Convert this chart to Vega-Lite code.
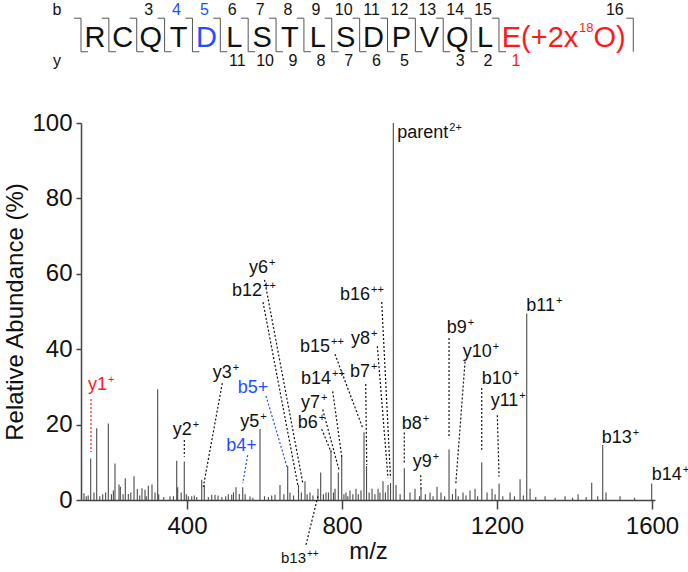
{
  "$schema": "https://vega.github.io/schema/vega-lite/v6.json",
  "width": 574,
  "height": 377,
  "autosize": {"type": "none"},
  "padding": {"left": 81, "top": 123, "right": 33, "bottom": 72},
  "background": "white",
  "config": {"view": {"stroke": null}, "font": "Liberation Sans"},
  "datasets": {
    "peaks": [
      {"mz":134.2,"ab":1.8},{"mz":140,"ab":1},{"mz":145,"ab":1.2},{"mz":151.5,"ab":11},{"mz":160,"ab":2},{"mz":167,"ab":19},{"mz":175,"ab":1},{"mz":182.5,"ab":1.5},{"mz":190,"ab":2},{"mz":197,"ab":20.3},{"mz":205,"ab":1.5},{"mz":210,"ab":2.5},{"mz":214.2,"ab":9.7},{"mz":224.6,"ab":4.1},{"mz":228,"ab":3.5},{"mz":235,"ab":1.5},{"mz":240.8,"ab":5.8},{"mz":248.6,"ab":1.6},{"mz":255,"ab":2},{"mz":263.3,"ab":6.3},{"mz":271.8,"ab":2.9},{"mz":278,"ab":1.2},{"mz":283.9,"ab":3.1},{"mz":291.7,"ab":2.7},{"mz":295,"ab":1},{"mz":300.2,"ab":3.8},{"mz":309.7,"ab":4.1},{"mz":317.5,"ab":2},{"mz":324.4,"ab":29.4},{"mz":327,"ab":1.5},{"mz":340,"ab":0.8},{"mz":356.2,"ab":1},{"mz":365,"ab":1},{"mz":373.5,"ab":10.4},{"mz":376,"ab":3.4},{"mz":385,"ab":2},{"mz":393,"ab":10.2},{"mz":398.2,"ab":1.5},{"mz":403.4,"ab":1},{"mz":412.2,"ab":1},{"mz":418.9,"ab":1.2},{"mz":425,"ab":0.8},{"mz":438,"ab":5.4},{"mz":444.7,"ab":4},{"mz":455,"ab":0.8},{"mz":463.8,"ab":1.4},{"mz":472.3,"ab":1.4},{"mz":480,"ab":1.2},{"mz":490,"ab":0.8},{"mz":499.9,"ab":1},{"mz":506.6,"ab":1.5},{"mz":515.4,"ab":1.4},{"mz":520,"ab":2},{"mz":526.5,"ab":3.4},{"mz":535,"ab":1.6},{"mz":543.8,"ab":3.4},{"mz":550,"ab":1.5},{"mz":562.6,"ab":0.9},{"mz":570,"ab":0.6},{"mz":588.4,"ab":18.8},{"mz":600,"ab":1},{"mz":610,"ab":0.8},{"mz":618.6,"ab":1.2},{"mz":627.1,"ab":1.4},{"mz":640,"ab":4},{"mz":650,"ab":1.5},{"mz":659.9,"ab":9},{"mz":665.8,"ab":2},{"mz":675,"ab":1.2},{"mz":687.8,"ab":4},{"mz":695,"ab":2},{"mz":704.5,"ab":5},{"mz":710,"ab":1.5},{"mz":717.4,"ab":2},{"mz":725,"ab":1.2},{"mz":738,"ab":3},{"mz":745,"ab":7.3},{"mz":752,"ab":1.5},{"mz":758.7,"ab":2},{"mz":765,"ab":2},{"mz":771.6,"ab":13.3},{"mz":778,"ab":2},{"mz":782,"ab":3},{"mz":790.5,"ab":7.3},{"mz":799.3,"ab":11.7},{"mz":805,"ab":1.5},{"mz":810.3,"ab":2},{"mz":815,"ab":1},{"mz":820.6,"ab":2.5},{"mz":828,"ab":1.5},{"mz":836.1,"ab":3},{"mz":842,"ab":1.5},{"mz":849,"ab":2.5},{"mz":856.8,"ab":18},{"mz":863.3,"ab":9},{"mz":870,"ab":2},{"mz":877.5,"ab":3},{"mz":885,"ab":1.5},{"mz":893,"ab":3},{"mz":898,"ab":2},{"mz":905.8,"ab":5},{"mz":912,"ab":2},{"mz":918.7,"ab":4},{"mz":925.2,"ab":4.5},{"mz":932.4,"ab":100},{"mz":939.4,"ab":4},{"mz":950,"ab":1.5},{"mz":960.8,"ab":8.4},{"mz":975.5,"ab":2},{"mz":988.4,"ab":3},{"mz":1000,"ab":1},{"mz":1003.9,"ab":3},{"mz":1015,"ab":1.5},{"mz":1027.1,"ab":2},{"mz":1035,"ab":1},{"mz":1045.2,"ab":3.5},{"mz":1055.5,"ab":2},{"mz":1065,"ab":1},{"mz":1076.2,"ab":13.4},{"mz":1085,"ab":1.5},{"mz":1093.5,"ab":3},{"mz":1100,"ab":1},{"mz":1112.3,"ab":2},{"mz":1120,"ab":1.2},{"mz":1130.4,"ab":2.5},{"mz":1143.3,"ab":3},{"mz":1150,"ab":1},{"mz":1160.6,"ab":10},{"mz":1174.3,"ab":2},{"mz":1187.2,"ab":3},{"mz":1195,"ab":1.5},{"mz":1205.3,"ab":4.4},{"mz":1215,"ab":1},{"mz":1233.7,"ab":2},{"mz":1245,"ab":1},{"mz":1259.5,"ab":5.5},{"mz":1268,"ab":1.2},{"mz":1276.7,"ab":49.5},{"mz":1285.3,"ab":3},{"mz":1300,"ab":0.8},{"mz":1324,"ab":1},{"mz":1350,"ab":0.6},{"mz":1375.6,"ab":1},{"mz":1395,"ab":0.6},{"mz":1409.2,"ab":1.5},{"mz":1430,"ab":0.8},{"mz":1444.4,"ab":4.6},{"mz":1460,"ab":1},{"mz":1472.8,"ab":14.6},{"mz":1481.3,"ab":2},{"mz":1517.5,"ab":1},{"mz":1555,"ab":0.6},{"mz":1599.2,"ab":4.4}
    ],
    "leaders": [
      {"ion":"y1","hl":"red","x1":152.3,"y1":26.8,"x2":152.3,"y2":12.7},
      {"ion":"y2","hl":"black","x1":393.1,"y1":15.9,"x2":393.1,"y2":11.5},
      {"ion":"y3","hl":"black","x1":491.1,"y1":31.0,"x2":442.1,"y2":3.5},
      {"ion":"b4","hl":"blue","x1":556.7,"y1":11.9,"x2":543.8,"y2":4.4},
      {"ion":"b5","hl":"blue","x1":603.9,"y1":27.6,"x2":659.9,"y2":8.2},
      {"ion":"y6","hl":"black","x1":600.1,"y1":58.4,"x2":699.5,"y2":4.2},
      {"ion":"b12++","hl":"black","x1":596.2,"y1":52.5,"x2":686.5,"y2":3.7},
      {"ion":"b16++","hl":"black","x1":902.5,"y1":52.5,"x2":925.2,"y2":5.8},
      {"ion":"y8","hl":"black","x1":891.2,"y1":40.8,"x2":918.7,"y2":5.8},
      {"ion":"b15++","hl":"black","x1":781.9,"y1":38.7,"x2":853.4,"y2":19.1},
      {"ion":"b7","hl":"black","x1":861.2,"y1":30.8,"x2":863.8,"y2":9.3},
      {"ion":"b14++","hl":"black","x1":776.0,"y1":28.8,"x2":799.3,"y2":11.5},
      {"ion":"y7","hl":"black","x1":750.2,"y1":24.0,"x2":792.3,"y2":8.0},
      {"ion":"b6","hl":"black","x1":747.6,"y1":18.8,"x2":771.6,"y2":12.8},
      {"ion":"b8","hl":"black","x1":960.8,"y1":17.9,"x2":960.8,"y2":9.7},
      {"ion":"y9","hl":"black","x1":1003.1,"y1":6.6,"x2":1003.9,"y2":2.7},
      {"ion":"b9","hl":"black","x1":1076.2,"y1":43.0,"x2":1076.2,"y2":16.4},
      {"ion":"y10","hl":"black","x1":1117.5,"y1":36.7,"x2":1093.5,"y2":4.0},
      {"ion":"b10","hl":"black","x1":1160.6,"y1":29.7,"x2":1160.6,"y2":13.3},
      {"ion":"y11","hl":"black","x1":1200.8,"y1":22.5,"x2":1205.3,"y2":6.2},
      {"ion":"b13++","hl":"black","x1":707.1,"y1":-11.9,"x2":738.0,"y2":1.1}
    ],
    "labels": [
      {"base":"y1","sup":"+","hl":"red","lx":193.6,"ly":29.2},
      {"base":"y2","sup":"+","hl":"black","lx":412.2,"ly":17.2},
      {"base":"y3","sup":"+","hl":"black","lx":515.4,"ly":32.3},
      {"base":"y5","sup":"+","hl":"black","lx":586.6,"ly":19.4},
      {"base":"b4+","sup":"","hl":"blue","lx":579.9,"ly":13.1},
      {"base":"b5+","sup":"","hl":"blue","lx":609.8,"ly":28.3},
      {"base":"y6","sup":"+","hl":"black","lx":609.0,"ly":60.2},
      {"base":"b12","sup":"++","hl":"black","lx":593.6,"ly":54.1},
      {"base":"b16","sup":"++","hl":"black","lx":872.3,"ly":53.1},
      {"base":"b15","sup":"++","hl":"black","lx":769.1,"ly":39.3},
      {"base":"y8","sup":"+","hl":"black","lx":872.3,"ly":41.4},
      {"base":"b7","sup":"+","hl":"black","lx":872.3,"ly":32.7},
      {"base":"b14","sup":"++","hl":"black","lx":771.6,"ly":30.7},
      {"base":"y7","sup":"+","hl":"black","lx":743.3,"ly":24.5},
      {"base":"b6","sup":"+","hl":"black","lx":737.3,"ly":19.0},
      {"base":"b8","sup":"+","hl":"black","lx":1005.7,"ly":18.8},
      {"base":"y9","sup":"+","hl":"black","lx":1031.5,"ly":8.7},
      {"base":"b9","sup":"+","hl":"black","lx":1121.8,"ly":44.2},
      {"base":"y10","sup":"+","hl":"black","lx":1186.3,"ly":38.0},
      {"base":"b10","sup":"+","hl":"black","lx":1237.9,"ly":30.8},
      {"base":"y11","sup":"+","hl":"black","lx":1255.0,"ly":24.9},
      {"base":"b11","sup":"+","hl":"black","lx":1349.7,"ly":50.1},
      {"base":"b13","sup":"+","hl":"black","lx":1547.6,"ly":15.0},
      {"base":"b14","sup":"+","hl":"black","lx":1676.6,"ly":5.3},
      {"base":"parent","sup":"2+","hl":"black","lx":1074.3,"ly":95.9}
    ],
    "smalllabels": [
      {"base":"b13","sup":"++","hl":"black","lx":707.1,"ly":-16.7}
    ],
    "seq": [
      {"i":1,"aa":"R","hl":"black"},{"i":2,"aa":"C","hl":"black"},{"i":3,"aa":"Q","hl":"black"},{"i":4,"aa":"T","hl":"black"},{"i":5,"aa":"D","hl":"blue"},{"i":6,"aa":"L","hl":"black"},{"i":7,"aa":"S","hl":"black"},{"i":8,"aa":"T","hl":"black"},{"i":9,"aa":"L","hl":"black"},{"i":10,"aa":"S","hl":"black"},{"i":11,"aa":"D","hl":"black"},{"i":12,"aa":"P","hl":"black"},{"i":13,"aa":"V","hl":"black"},{"i":14,"aa":"Q","hl":"black"},{"i":15,"aa":"L","hl":"black"}
    ],
    "seqtail": [
      {"i":15.6,"t":"E(+2x"},{"i":18.89,"t":"O)"}
    ],
    "seqsup": [
      {"i":18.37,"t":"18"}
    ],
    "bnum": [
      {"i":3,"n":"3","hl":"black"},{"i":4,"n":"4","hl":"blue"},{"i":5,"n":"5","hl":"blue"},{"i":6,"n":"6","hl":"black"},{"i":7,"n":"7","hl":"black"},{"i":8,"n":"8","hl":"black"},{"i":9,"n":"9","hl":"black"},{"i":10,"n":"10","hl":"black"},{"i":11,"n":"11","hl":"black"},{"i":12,"n":"12","hl":"black"},{"i":13,"n":"13","hl":"black"},{"i":14,"n":"14","hl":"black"},{"i":15,"n":"15","hl":"black"},{"i":19.73,"n":"16","hl":"black"}
    ],
    "ynum": [
      {"i":6,"n":"11","hl":"black"},{"i":7,"n":"10","hl":"black"},{"i":8,"n":"9","hl":"black"},{"i":9,"n":"8","hl":"black"},{"i":10,"n":"7","hl":"black"},{"i":11,"n":"6","hl":"black"},{"i":12,"n":"5","hl":"black"},{"i":14,"n":"3","hl":"black"},{"i":15,"n":"2","hl":"black"},{"i":16,"n":"1","hl":"red"}
    ],
    "rowb": [{"i":-0.36,"t":"b"}],
    "rowy": [{"i":-0.36,"t":"y"}],
    "bounds": [
      {"b":0.5},{"b":1.5},{"b":2.5},{"b":3.5},{"b":4.5},{"b":5.5},{"b":6.5},{"b":7.5},{"b":8.5},{"b":9.5},{"b":10.5},{"b":11.5},{"b":12.5},{"b":13.5},{"b":14.5},{"b":15.5}
    ],
    "endbound": [{"b":20.32}]
  },
  "layer": [
    {
      "layer": [
        {
          "data": {"name": "peaks"},
          "mark": {"type": "rule", "color": "#4a4a4a", "strokeWidth": 1.1},
          "encoding": {
            "x": {"field": "mz", "type": "quantitative", "scale": {"domain": [126.5, 1607.7], "nice": false, "zero": false},
              "title": "m/z",
              "axis": {"values": [400, 800, 1200, 1600], "format": "d", "grid": false, "tickSize": 9, "labelFontSize": 24, "titleFontSize": 24, "labelFont": "Liberation Sans", "titleFont": "Liberation Sans", "titleFontWeight": "normal", "labelColor": "#111", "titleColor": "#111", "domainColor": "#444", "tickColor": "#444", "domainWidth": 1.5, "tickWidth": 1.5, "labelPadding": 5, "titlePadding": 1, "labelFlush": false}},
            "y": {"field": "ab", "type": "quantitative", "scale": {"domain": [0, 100], "nice": false},
              "title": "Relative Abundance (%)",
              "axis": {"values": [0, 20, 40, 60, 80, 100], "grid": false, "tickSize": 5, "labelFontSize": 24, "titleFontSize": 24, "labelFont": "Liberation Sans", "titleFont": "Liberation Sans", "titleFontWeight": "normal", "labelColor": "#111", "titleColor": "#111", "domainColor": "#444", "tickColor": "#444", "domainWidth": 1.5, "tickWidth": 1.5, "labelPadding": 4, "titlePadding": 4}},
            "y2": {"datum": 0}
          }
        },
        {
          "data": {"name": "leaders"},
          "mark": {"type": "rule", "strokeDash": [2, 2], "strokeWidth": 1.2},
          "encoding": {
            "x": {"field": "x1", "type": "quantitative", "title": "m/z"},
            "y": {"field": "y1", "type": "quantitative", "title": "Relative Abundance (%)"},
            "x2": {"field": "x2"},
            "y2": {"field": "y2"},
            "color": {"field": "hl", "type": "nominal", "scale": {"domain": ["black", "red", "blue"], "range": ["#111111", "#ff1a1a", "#1f4fff"]}, "legend": null}
          }
        },
        {
          "data": {"name": "labels"},
          "mark": {"type": "text", "align": "right", "baseline": "alphabetic", "fontSize": 18, "font": "Liberation Sans"},
          "encoding": {
            "x": {"field": "lx", "type": "quantitative", "title": "m/z"},
            "y": {"field": "ly", "type": "quantitative", "title": "Relative Abundance (%)"},
            "text": {"field": "base"},
            "color": {"field": "hl", "type": "nominal", "legend": null}
          }
        },
        {
          "data": {"name": "labels"},
          "mark": {"type": "text", "align": "left", "baseline": "alphabetic", "fontSize": 11, "dx": 1, "dy": -7, "font": "Liberation Sans"},
          "encoding": {
            "x": {"field": "lx", "type": "quantitative", "title": "m/z"},
            "y": {"field": "ly", "type": "quantitative", "title": "Relative Abundance (%)"},
            "text": {"field": "sup"},
            "color": {"field": "hl", "type": "nominal", "legend": null}
          }
        },
        {
          "data": {"name": "smalllabels"},
          "mark": {"type": "text", "align": "right", "baseline": "alphabetic", "fontSize": 15, "font": "Liberation Sans", "color": "#111"},
          "encoding": {
            "x": {"field": "lx", "type": "quantitative", "title": "m/z"},
            "y": {"field": "ly", "type": "quantitative", "title": "Relative Abundance (%)"},
            "text": {"field": "base"}
          }
        },
        {
          "data": {"name": "smalllabels"},
          "mark": {"type": "text", "align": "left", "baseline": "alphabetic", "fontSize": 10, "dx": 1, "dy": -6, "font": "Liberation Sans", "color": "#111"},
          "encoding": {
            "x": {"field": "lx", "type": "quantitative", "title": "m/z"},
            "y": {"field": "ly", "type": "quantitative", "title": "Relative Abundance (%)"},
            "text": {"field": "sup"}
          }
        }
      ]
    },
    {
      "layer": [
        {
          "data": {"name": "bounds"},
          "mark": {"type": "rule", "color": "#555", "strokeWidth": 1},
          "encoding": {
            "x": {"field": "b", "type": "quantitative", "scale": {"domain": [0.5, 21.1], "nice": false, "zero": false}, "axis": null},
            "y": {"datum": 127.8, "type": "quantitative", "scale": {"domain": [0, 100], "nice": false, "zero": false}, "axis": null},
            "y2": {"datum": 118.9}
          }
        },
        {
          "data": {"name": "bounds"},
          "mark": {"type": "rule", "color": "#555", "strokeWidth": 1, "xOffset": -7},
          "encoding": {
            "x": {"field": "b", "type": "quantitative", "axis": null},
            "x2": {"field": "b"},
            "y": {"datum": 127.8, "type": "quantitative", "axis": null}
          }
        },
        {
          "data": {"name": "bounds"},
          "mark": {"type": "rule", "color": "#555", "strokeWidth": 1, "x2Offset": 7},
          "encoding": {
            "x": {"field": "b", "type": "quantitative", "axis": null},
            "x2": {"field": "b"},
            "y": {"datum": 118.9, "type": "quantitative", "axis": null}
          }
        },
        {
          "data": {"name": "endbound"},
          "mark": {"type": "rule", "color": "#555", "strokeWidth": 1},
          "encoding": {
            "x": {"field": "b", "type": "quantitative", "axis": null},
            "y": {"datum": 127.8, "type": "quantitative", "axis": null},
            "y2": {"datum": 118.9}
          }
        },
        {
          "data": {"name": "endbound"},
          "mark": {"type": "rule", "color": "#555", "strokeWidth": 1, "xOffset": -7},
          "encoding": {
            "x": {"field": "b", "type": "quantitative", "axis": null},
            "x2": {"field": "b"},
            "y": {"datum": 127.8, "type": "quantitative", "axis": null}
          }
        },
        {
          "data": {"name": "seq"},
          "mark": {"type": "text", "align": "center", "baseline": "alphabetic", "fontSize": 29, "font": "Liberation Sans"},
          "encoding": {
            "x": {"field": "i", "type": "quantitative", "axis": null},
            "y": {"datum": 120.2, "type": "quantitative", "axis": null},
            "text": {"field": "aa"},
            "color": {"field": "hl", "type": "nominal", "scale": {"domain": ["black", "red", "blue"], "range": ["#111111", "#ff1a1a", "#1f4fff"]}, "legend": null}
          }
        },
        {
          "data": {"name": "seqtail"},
          "mark": {"type": "text", "align": "left", "baseline": "alphabetic", "fontSize": 29, "font": "Liberation Sans", "color": "#ff1a1a"},
          "encoding": {
            "x": {"field": "i", "type": "quantitative", "axis": null},
            "y": {"datum": 120.2, "type": "quantitative", "axis": null},
            "text": {"field": "t"}
          }
        },
        {
          "data": {"name": "seqsup"},
          "mark": {"type": "text", "align": "left", "baseline": "alphabetic", "fontSize": 13, "font": "Liberation Sans", "color": "#ff1a1a"},
          "encoding": {
            "x": {"field": "i", "type": "quantitative", "axis": null},
            "y": {"datum": 124.2, "type": "quantitative", "axis": null},
            "text": {"field": "t"}
          }
        },
        {
          "data": {"name": "bnum"},
          "mark": {"type": "text", "align": "center", "baseline": "alphabetic", "fontSize": 16, "font": "Liberation Sans", "dx": -2},
          "encoding": {
            "x": {"field": "i", "type": "quantitative", "axis": null},
            "y": {"datum": 128.6, "type": "quantitative", "axis": null},
            "text": {"field": "n"},
            "color": {"field": "hl", "type": "nominal", "legend": null}
          }
        },
        {
          "data": {"name": "ynum"},
          "mark": {"type": "text", "align": "center", "baseline": "alphabetic", "fontSize": 16, "font": "Liberation Sans", "dx": 3},
          "encoding": {
            "x": {"field": "i", "type": "quantitative", "axis": null},
            "y": {"datum": 115.1, "type": "quantitative", "axis": null},
            "text": {"field": "n"},
            "color": {"field": "hl", "type": "nominal", "legend": null}
          }
        },
        {
          "data": {"name": "rowb"},
          "mark": {"type": "text", "align": "center", "baseline": "alphabetic", "fontSize": 16, "font": "Liberation Sans", "color": "#111"},
          "encoding": {
            "x": {"field": "i", "type": "quantitative", "axis": null},
            "y": {"datum": 128.6, "type": "quantitative", "axis": null},
            "text": {"field": "t"}
          }
        },
        {
          "data": {"name": "rowy"},
          "mark": {"type": "text", "align": "center", "baseline": "alphabetic", "fontSize": 16, "font": "Liberation Sans", "color": "#111"},
          "encoding": {
            "x": {"field": "i", "type": "quantitative", "axis": null},
            "y": {"datum": 115.1, "type": "quantitative", "axis": null},
            "text": {"field": "t"}
          }
        }
      ]
    }
  ],
  "resolve": {"scale": {"x": "independent", "y": "independent", "color": "independent"}}
}
